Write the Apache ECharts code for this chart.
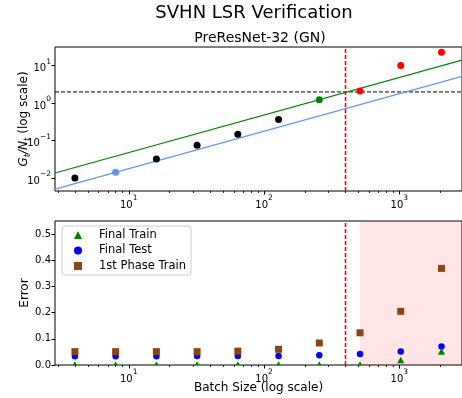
<!DOCTYPE html>
<html><head><meta charset="utf-8">
<script src="https://cdn.jsdelivr.net/npm/echarts@6.0.0/dist/echarts.min.js"></script>
<style>html,body{margin:0;padding:0;background:#fff}#c{width:462px;height:398px}</style>
</head><body><div id="c"></div>
<script>
// ---------- data ----------
const batchSmall = [4, 16, 32, 64, 128];
const ratioSmall = [0.0102, 0.0325, 0.0764, 0.150, 0.367];
const batchLowerPt = [8];
const ratioLowerPt = [0.0144];
const batchUpperPt = [256];
const ratioUpperPt = [1.24];
const batchLarge = [512, 1024, 2048];
const ratioLarge = [2.11, 10.1, 22.8];
const fitX = [2.85, 2904];
const upperFit = [0.0138, 14.05];
const lowerFit = [0.00513, 5.23];
const thresholdRatio = 2;
const criticalBatch = 400;
const spanStart = 512;

const batch = [4, 8, 16, 32, 64, 128, 256, 512, 1024, 2048];
const finalTrain = [0.0005, 0.0005, 0.0005, 0.0005, 0.0005, 0.0005, 0.0005, 0.0005, 0.018, 0.051];
const finalTest = [0.033, 0.033, 0.033, 0.034, 0.034, 0.034, 0.037, 0.042, 0.052, 0.071];
const phase1Train = [0.051, 0.051, 0.051, 0.051, 0.053, 0.060, 0.084, 0.123, 0.205, 0.369];

const xMajor = [10, 100, 1000];
const xMinor = [3, 4, 5, 6, 7, 8, 9, 20, 30, 40, 50, 60, 70, 80, 90, 200, 300, 400, 500, 600, 700, 800, 900, 2000];
const yMajor = [0.01, 0.1, 1, 10];
const yMinor = [0.005, 0.006, 0.007, 0.008, 0.009, 0.02, 0.03, 0.04, 0.05, 0.06, 0.07, 0.08, 0.09,
  0.2, 0.3, 0.4, 0.5, 0.6, 0.7, 0.8, 0.9, 2, 3, 4, 5, 6, 7, 8, 9, 20, 30];
const errTicks = [0, 0.1, 0.2, 0.3, 0.4, 0.5];

// ---------- helpers ----------
const FONT = 'DejaVu Sans';
const X_MIN = 2.85, X_MAX = 2904;
const Y_MIN = 0.00457, Y_MAX = 31.6;
const ERR_MIN = 0, ERR_MAX = 0.55;
const pair = (xs, ys) => xs.map((x, i) => [x, ys[i]]);
const supRich = {
  b: {fontFamily: FONT, fontSize: 10, color: '#000', lineHeight: 16, verticalAlign: 'bottom'},
  s: {fontFamily: FONT, fontSize: 7.5, color: '#000', verticalAlign: 'top'}
};
const pow10 = v => {
  const e = Math.round(Math.log10(v));
  return '{b|10}{s|' + (e < 0 ? '\u2212' + (-e) : e) + '}';
};

function xAxes(gridIndex, name) {
  return [{
    type: 'log', logBase: 10, gridIndex, min: X_MIN, max: X_MAX, position: 'bottom',
    axisLine: {show: false},
    axisTick: {show: true, length: 3.5, customValues: xMajor, lineStyle: {color: '#000', width: 1}},
    axisLabel: {customValues: xMajor, formatter: pow10, rich: supRich, margin: 3},
    splitLine: {show: false}, minorTick: {show: false},
    name: name, nameLocation: 'middle', nameGap: 17, nameMoveOverlap: false,
    nameTextStyle: {fontFamily: FONT, fontSize: 12, color: '#000'}
  }, {
    type: 'log', logBase: 10, gridIndex, min: X_MIN, max: X_MAX, position: 'bottom',
    axisLine: {show: false},
    axisTick: {show: true, length: 2, customValues: xMinor, lineStyle: {color: '#000', width: 0.8}},
    axisLabel: {show: false}, splitLine: {show: false}
  }];
}

// triangle marker drawn through the axis scales, clipped to the plot area
function triangleItem(params, api) {
  const p = api.coord([api.value(0), api.value(1)]);
  const r = 3.6;
  return {
    type: 'polygon',
    shape: {points: [[p[0], p[1] - r], [p[0] + r, p[1] + r * 0.85], [p[0] - r, p[1] + r * 0.85]]},
    style: {fill: '#008000'}
  };
}
const refLine = (xi, yi, data, color, w) => ({
  type: 'line', xAxisIndex: xi, yAxisIndex: yi, data, showSymbol: false, symbol: 'none', silent: true,
  lineStyle: {color, width: w, type: [4, 2]}, z: 2, animation: false
});

const chart = echarts.init(document.getElementById('c'), null, {renderer: 'canvas'});
chart.setOption({
  backgroundColor: '#fff',
  animation: false,
  textStyle: {fontFamily: FONT},
  graphic: [
    {type: 'text', x: 254, y: 13, style: {text: 'SVHN LSR Verification', align: 'center', verticalAlign: 'middle', font: '18px "DejaVu Sans"', fill: '#000'}},
    {type: 'text', x: 260, y: 38, style: {text: 'PreResNet-32 (GN)', align: 'center', verticalAlign: 'middle', font: '14px "DejaVu Sans"', fill: '#000'}}
  ],
  grid: [
    {left: 55, top: 47, width: 410, height: 144, show: true, borderColor: '#000', borderWidth: 1, backgroundColor: 'transparent'},
    {left: 55, top: 221, width: 410, height: 144, show: true, borderColor: '#000', borderWidth: 1, backgroundColor: 'transparent'}
  ],
  xAxis: [...xAxes(0, ''), ...xAxes(1, 'Batch Size (log scale)')],
  yAxis: [{
    type: 'log', logBase: 10, gridIndex: 0, min: Y_MIN, max: Y_MAX,
    axisLine: {show: false},
    axisTick: {show: true, length: 3.5, customValues: yMajor, lineStyle: {color: '#000'}},
    axisLabel: {customValues: yMajor, formatter: pow10, rich: supRich, margin: 4},
    splitLine: {show: false},
    name: '{i|G}{sb|t}{i|/N}{sb|t} (log scale)', nameLocation: 'middle', nameGap: 23, nameMoveOverlap: false,
    nameTextStyle: {fontFamily: FONT, fontSize: 12, color: '#000', lineHeight: 16,
      rich: {
        i: {fontFamily: FONT, fontSize: 12, fontStyle: 'italic', color: '#000', lineHeight: 16},
        sb: {fontFamily: FONT, fontSize: 8.5, fontStyle: 'italic', color: '#000', verticalAlign: 'bottom'}
      }}
  }, {
    type: 'log', logBase: 10, gridIndex: 0, min: Y_MIN, max: Y_MAX,
    axisLine: {show: false},
    axisTick: {show: true, length: 2, customValues: yMinor, lineStyle: {color: '#000', width: 0.8}},
    axisLabel: {show: false}, splitLine: {show: false}
  }, {
    type: 'value', gridIndex: 1, min: ERR_MIN, max: ERR_MAX,
    axisLine: {show: false},
    axisTick: {show: true, length: 3.5, customValues: errTicks, lineStyle: {color: '#000'}},
    axisLabel: {customValues: errTicks, formatter: v => v.toFixed(1), fontFamily: FONT, fontSize: 10, color: '#000', margin: 4},
    splitLine: {show: false},
    name: 'Error', nameLocation: 'middle', nameGap: 24, nameMoveOverlap: false,
    nameTextStyle: {fontFamily: FONT, fontSize: 12, color: '#000'}
  }],
  legend: {
    data: [{name: 'Final Train', icon: 'triangle', itemStyle: {color: '#008000'}}, 'Final Test', '1st Phase Train'],
    orient: 'vertical', left: 62, top: 226,
    itemWidth: 8, itemHeight: 8, itemGap: 3.5,
    padding: [3, 5, 3, 12],
    backgroundColor: 'rgba(255,255,255,0.8)', borderColor: '#ccc', borderWidth: 1, borderRadius: 3,
    textStyle: {fontFamily: FONT, fontSize: 11.5, color: '#000', padding: [0, 0, 0, 12]}
  },
  series: [
    refLine(0, 0, [[X_MIN, thresholdRatio], [X_MAX, thresholdRatio]], '#000000', 1),
    refLine(0, 0, [[criticalBatch, Y_MIN], [criticalBatch, Y_MAX]], '#ff0000', 1.6),
    refLine(2, 2, [[criticalBatch, ERR_MIN], [criticalBatch, ERR_MAX]], '#ff0000', 1.6),
    {type: 'line', xAxisIndex: 0, yAxisIndex: 0, data: pair(fitX, upperFit), showSymbol: false, symbol: 'none',
      lineStyle: {color: '#008000', width: 1.2}, z: 2, silent: true},
    {type: 'line', xAxisIndex: 0, yAxisIndex: 0, data: pair(fitX, lowerFit), showSymbol: false, symbol: 'none',
      lineStyle: {color: '#6495ed', width: 1.2}, z: 2, silent: true},
    {type: 'scatter', xAxisIndex: 0, yAxisIndex: 0, data: pair(batchSmall, ratioSmall), symbolSize: 7,
      itemStyle: {color: '#000', opacity: 1}, z: 3},
    {type: 'scatter', xAxisIndex: 0, yAxisIndex: 0, data: pair(batchLowerPt, ratioLowerPt), symbolSize: 7,
      itemStyle: {color: '#6495ed', opacity: 1}, z: 3},
    {type: 'scatter', xAxisIndex: 0, yAxisIndex: 0, data: pair(batchUpperPt, ratioUpperPt), symbolSize: 7,
      itemStyle: {color: '#008000', opacity: 1}, z: 3},
    {type: 'scatter', xAxisIndex: 0, yAxisIndex: 0, data: pair(batchLarge, ratioLarge), symbolSize: 7,
      itemStyle: {color: '#ff0000', opacity: 1}, z: 3},

    {name: 'Final Train', type: 'custom', xAxisIndex: 2, yAxisIndex: 2, data: pair(batch, finalTrain),
      renderItem: triangleItem, clip: true, itemStyle: {color: '#008000'}, z: 4,
      encode: {x: 0, y: 1}},
    {name: 'Final Test', type: 'scatter', xAxisIndex: 2, yAxisIndex: 2, data: pair(batch, finalTest),
      symbol: 'circle', symbolSize: 6.5, itemStyle: {color: '#0000ff', opacity: 1}, z: 3,
      markArea: {silent: true, itemStyle: {color: 'rgba(255,0,0,0.1)', opacity: 1},
        data: [[{xAxis: spanStart}, {xAxis: X_MAX}]]}},
    {name: '1st Phase Train', type: 'scatter', xAxisIndex: 2, yAxisIndex: 2, data: pair(batch, phase1Train),
      symbol: 'rect', symbolSize: 7, itemStyle: {color: '#8b4513', opacity: 1}, z: 3}
  ]
});
</script>
</body></html>
